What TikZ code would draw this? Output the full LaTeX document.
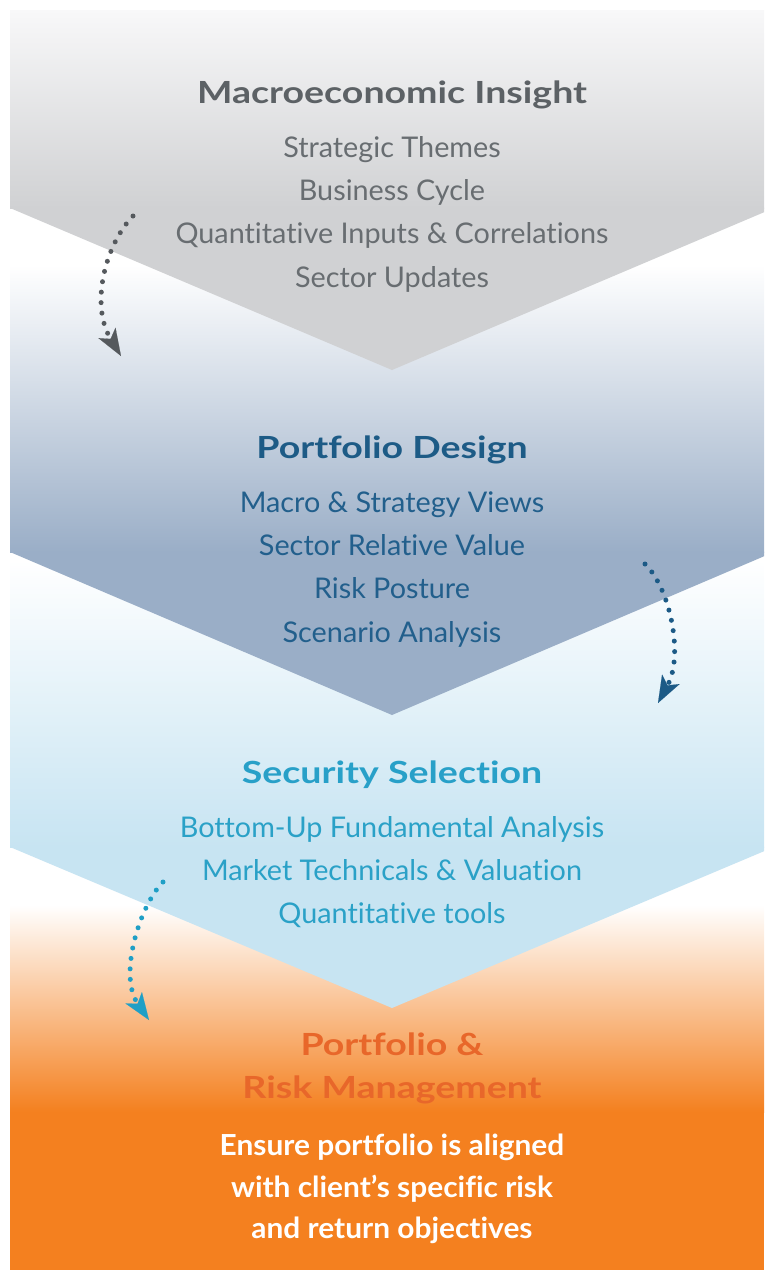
\documentclass[tikz,border=0pt]{standalone}
\usepackage{fontspec}
\setmainfont{Lato}[Ligatures=NoCommon]
\newfontfamily\titlefont{Lato}[FakeStretch=1.23,Ligatures=NoCommon]
\newfontfamily\condfont{Lato}[FakeStretch=1.01,Ligatures=NoCommon]
\newfontfamily\whitefont{Lato}[FakeStretch=1.03,Ligatures=NoCommon]
\usetikzlibrary{arrows.meta}
\definecolor{greyband}{HTML}{D0D1D3}
\definecolor{greytop}{HTML}{F8F8F9}
\definecolor{greytitle}{HTML}{5C6165}
\definecolor{greyitem}{HTML}{686D71}
\definecolor{arrowgrey}{HTML}{55595D}
\definecolor{blueband}{HTML}{9AAEC7}
\definecolor{bluetitle}{HTML}{1D5B86}
\definecolor{blueitem}{HTML}{225F8C}
\definecolor{arrowblue}{HTML}{1C5A86}
\definecolor{lblueband}{HTML}{C7E4F2}
\definecolor{cyantitle}{HTML}{28A0C8}
\definecolor{cyanitem}{HTML}{2AA1C7}
\definecolor{arrowcyan}{HTML}{1F9FC6}
\definecolor{orangeband}{HTML}{F4801F}
\definecolor{peach}{HTML}{FBD0AC}
\definecolor{orangetitle}{HTML}{E8672A}
\tikzset{
  ttl/.style={anchor=base, inner sep=0pt, font=\titlefont\fontsize{30.5}{35}\selectfont\bfseries},
  itm/.style={anchor=base, inner sep=0pt, font=\condfont\fontsize{28.5}{33}\selectfont},
  wht/.style={anchor=base, inner sep=0pt, text=white, font=\whitefont\fontsize{29}{34}\selectfont\bfseries},
  dotarrow/.style={line width=5pt, line cap=round, dash pattern=on 0pt off 10.5pt,
    -{Stealth[length=27pt,width=20pt,inset=7pt,line width=0.1pt]}}
}
\begin{document}
\begin{tikzpicture}[x=1pt,y=-1pt]
\useasboundingbox (0,0) rectangle (764,1270);
\fill[white] (0,0) rectangle (764,1270);
\begin{scope}
\clip (0,0) rectangle (764,1270);
% band 4 (orange)
\shade[top color=white, middle color=peach, bottom color=orangeband] (10,905) rectangle (764,1112);
\fill[orangeband] (10,1111.5) rectangle (764,1270);
% band 3 (light blue)
\shade[top color=white, bottom color=lblueband] (10,560) rectangle (764,847);
\fill[lblueband] (10,846.5) -- (774,846.5) -- (774,847) -- (392,1008) -- (10,847) -- cycle;
% band 2 (blue grey)
\shade[top color=white, bottom color=blueband] (10,265) rectangle (764,552);
\fill[blueband] (10,551.5) -- (774,551.5) -- (774,552) -- (392,715) -- (10,552) -- cycle;
% band 1 (grey)
\shade[top color=greytop, bottom color=greyband] (10,10) rectangle (764,208);
\fill[greyband] (10,207.5) -- (774,207.5) -- (774,208) -- (392,370) -- (10,208) -- cycle;
\end{scope}

% texts band 1
\node[ttl, text=greytitle] (t1) at (392,103) {Macroeconomic Insight};
\node[itm, text=greyitem] (t1a) at (392,157) {Strategic Themes};
\node[itm, text=greyitem] (t1b) at (392,200) {Business Cycle};
\node[itm, text=greyitem] (t1c) at (392,243) {Quantitative Inputs \& Correlations};
\node[itm, text=greyitem] (t1d) at (392,287) {Sector Updates};
% texts band 2
\node[ttl, text=bluetitle] (t2) at (392,458) {Portfolio Design};
\node[itm, text=blueitem] (t2a) at (392,512) {Macro \& Strategy Views};
\node[itm, text=blueitem] (t2b) at (392,555) {Sector Relative Value};
\node[itm, text=blueitem] (t2c) at (392,598) {Risk Posture};
\node[itm, text=blueitem] (t2d) at (392,642) {Scenario Analysis};
% texts band 3
\node[ttl, text=cyantitle] (t3) at (392,783) {Security Selection};
\node[itm, text=cyanitem] (t3a) at (392,837) {Bottom-Up Fundamental Analysis};
\node[itm, text=cyanitem] (t3b) at (392,880) {Market Technicals \& Valuation};
\node[itm, text=cyanitem] (t3c) at (392,923) {Quantitative tools};
% texts band 4
\node[ttl, text=orangetitle] (t4a) at (392,1055) {Portfolio \&};
\node[ttl, text=orangetitle] (t4b) at (392,1098) {Risk Management};
\node[wht] (t4c) at (392,1155) {Ensure portfolio is aligned};
\node[wht] (t4d) at (392,1197) {with client’s specific risk};
\node[wht] (t4e) at (392,1238) {and return objectives};

% arrows
\coordinate (a1s) at (133,216);
\coordinate (a1e) at (121,356);
\coordinate (a2s) at (645,564);
\coordinate (a2e) at (658,703);
\coordinate (a3s) at (163,882);
\coordinate (a3e) at (149,1020);
\draw[dotarrow, arrowgrey] (a1s) .. controls (105,245) and (90,305) .. (a1e);
\draw[dotarrow, arrowblue] (a2s) .. controls (670,588) and (684,655) .. (a2e);
\draw[dotarrow, arrowcyan] (a3s) .. controls (140,905) and (118,975) .. (a3e);
\end{tikzpicture}
\end{document}
